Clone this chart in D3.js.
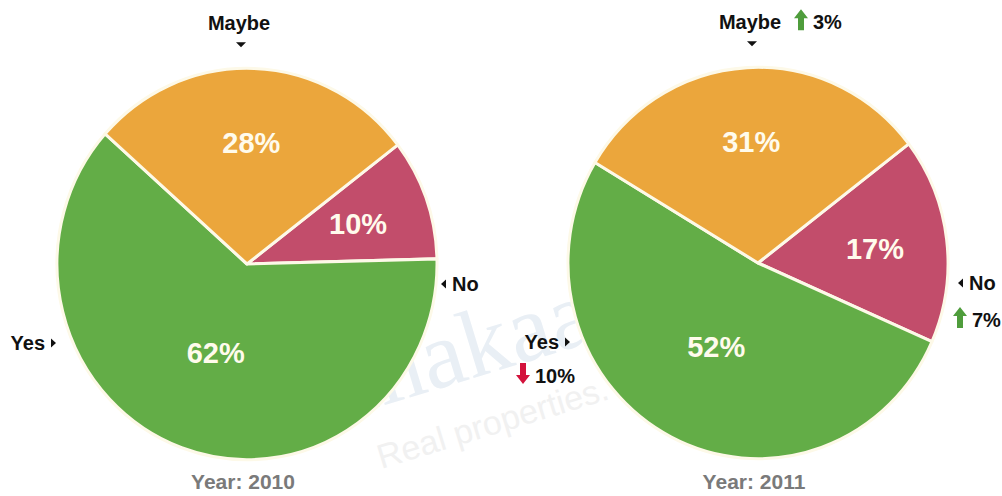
<!DOCTYPE html>
<html>
<head>
<meta charset="utf-8">
<script src="https://cdn.jsdelivr.net/npm/d3@7"></script>
<style>
  body { margin: 0; background: #fff; }
  svg { display: block; font-family: "Liberation Sans", Arial, sans-serif; }
</style>
</head>
<body>
<svg id="chart"></svg>
<script>
// data
const categories = ["No", "Yes", "Maybe"];   // clockwise order, starting right of Maybe
const years = ["2010", "2011"];
const values2010 = [10, 62, 28];
const values2011 = [17, 52, 31];
const change2011 = [7, -10, 3];              // arrows next to the 2011 labels
const sliceColors = ["#c24d6b", "#63ad47", "#eba63c"];

width = 1002;
height = 496;
svg = d3.select("#chart").attr("width", width).attr("height", height);

color = d3.scaleOrdinal().domain(categories).range(sliceColors);

r = 190;
ry = 1.03;             // pie is a little taller than wide in the picture
startAngle = 52.5 * Math.PI / 180;

pie = d3.pie()
    .sort(null)
    .value(d => d.value)
    .startAngle(startAngle)
    .endAngle(startAngle + 2 * Math.PI);

arc = d3.arc().innerRadius(0).outerRadius(r);

// faint watermark behind everything
wm = svg.append("g").attr("transform", "translate(470,400) rotate(-17)");
wm.append("text")
    .attr("x", -110).attr("y", -20)
    .attr("font-family", "'Liberation Serif', serif")
    .attr("font-size", 96)
    .attr("fill", "#e9eff5")
    .text("makaan");
wm.append("text")
    .attr("x", -105).attr("y", 40)
    .attr("font-size", 34)
    .attr("fill", "#f1f1f1")
    .text("Real properties. K");

pies = [
    {year: years[0], values: values2010, cx: 247, cy: 264, change: null},
    {year: years[1], values: values2011, cx: 758, cy: 263, change: change2011}
];

function arrowPath(x, y, up) {
    // block arrow, 14px wide, 21px tall, (x, y) = top centre
    d = up
        ? [[0, 0], [7, 9], [3, 9], [3, 21], [-3, 21], [-3, 9], [-7, 9]]
        : [[-3, 0], [3, 0], [3, 12], [7, 12], [0, 21], [-7, 12], [-3, 12]];
    return "M" + d.map(p => (x + p[0]) + "," + (y + p[1])).join("L") + "Z";
}

function changeMark(g, x, y, v) {
    // arrow then "n%" text, x = left of arrow, y = text baseline
    up = v > 0;
    g.append("path")
        .attr("d", arrowPath(x + 7, y - 20, up))
        .attr("fill", up ? "#4f9d3c" : "#d3123c");
    g.append("text")
        .attr("x", x + 19).attr("y", y)
        .attr("font-size", 20).attr("font-weight", "bold").attr("fill", "#111")
        .text(Math.abs(v) + "%");
}

function triangle(g, x, y, dir) {
    // small black pointer, (x, y) = tip
    pts = {
        down: [[x, y], [x - 5, y - 5], [x + 5, y - 5]],
        left: [[x, y], [x + 5, y - 4.5], [x + 5, y + 4.5]],
        right: [[x, y], [x - 5, y - 4.5], [x - 5, y + 4.5]]
    }[dir];
    g.append("path").attr("d", "M" + pts.join("L") + "Z").attr("fill", "#111");
}

pies.forEach(p => {
    data = categories.map((c, i) => ({cat: c, value: p.values[i]}));
    g = svg.append("g").attr("transform", `translate(${p.cx},${p.cy}) scale(1,${ry})`);

    arcs = pie(data);
    g.selectAll("path.slice")
        .data(arcs)
        .enter().append("path")
        .attr("class", "slice")
        .attr("d", arc)
        .attr("fill", d => color(d.data.cat))
        .attr("stroke", "#fdf9e8")
        .attr("stroke-width", 3)
        .attr("stroke-linejoin", "round");

    // percentage labels inside the slices
    g.selectAll("text.pct")
        .data(arcs)
        .enter().append("text")
        .attr("class", "pct")
        .attr("transform", d => {
            k = (d.endAngle - d.startAngle) > Math.PI ? 0.48 : 0.62;
            a = (d.startAngle + d.endAngle) / 2;
            return `translate(${Math.sin(a) * r * k},${-Math.cos(a) * r * k}) scale(1,${1 / ry})`;
        })
        .attr("text-anchor", "middle")
        .attr("dy", "0.36em")
        .attr("font-size", 29)
        .attr("font-weight", "bold")
        .attr("fill", "#fffbec")
        .text(d => d.data.value + "%");

    // outer labels
    o = svg.append("g").attr("transform", `translate(${p.cx},${p.cy})`);
    top_ = -r * ry;
    lab = {font: 20};

    // Maybe, above
    o.append("text")
        .attr("x", -8).attr("y", top_ - 38)
        .attr("text-anchor", "middle")
        .attr("font-size", lab.font).attr("font-weight", "bold").attr("fill", "#111")
        .text("Maybe");
    triangle(o, -6, top_ - 21, "down");

    // No, right
    triangle(o, r + 4 + (p.change ? 6 : 0), 20, "left");
    o.append("text")
        .attr("x", r + 15 + (p.change ? 6 : 0)).attr("y", 27)
        .attr("font-size", lab.font).attr("font-weight", "bold").attr("fill", "#111")
        .text("No");

    // Yes, left
    triangle(o, -r - 1 + (p.change ? 3 : 0), 79, "right");
    o.append("text")
        .attr("x", -r - 12 + (p.change ? 3 : 0)).attr("y", 86)
        .attr("text-anchor", "end")
        .attr("font-size", lab.font).attr("font-weight", "bold").attr("fill", "#111")
        .text("Yes");

    if (p.change) {
        changeMark(o, 36, top_ - 38, p.change[categories.indexOf("Maybe")]);
        changeMark(o, r + 5, 64, p.change[categories.indexOf("No")]);
        changeMark(o, -r - 52, 120, p.change[categories.indexOf("Yes")]);
    }

    // year caption
    svg.append("text")
        .attr("x", p.cx - 4).attr("y", 489)
        .attr("text-anchor", "middle")
        .attr("font-size", 21).attr("font-weight", "bold").attr("fill", "#7a7a7a")
        .text("Year: " + p.year);
});
</script>
</body>
</html>
